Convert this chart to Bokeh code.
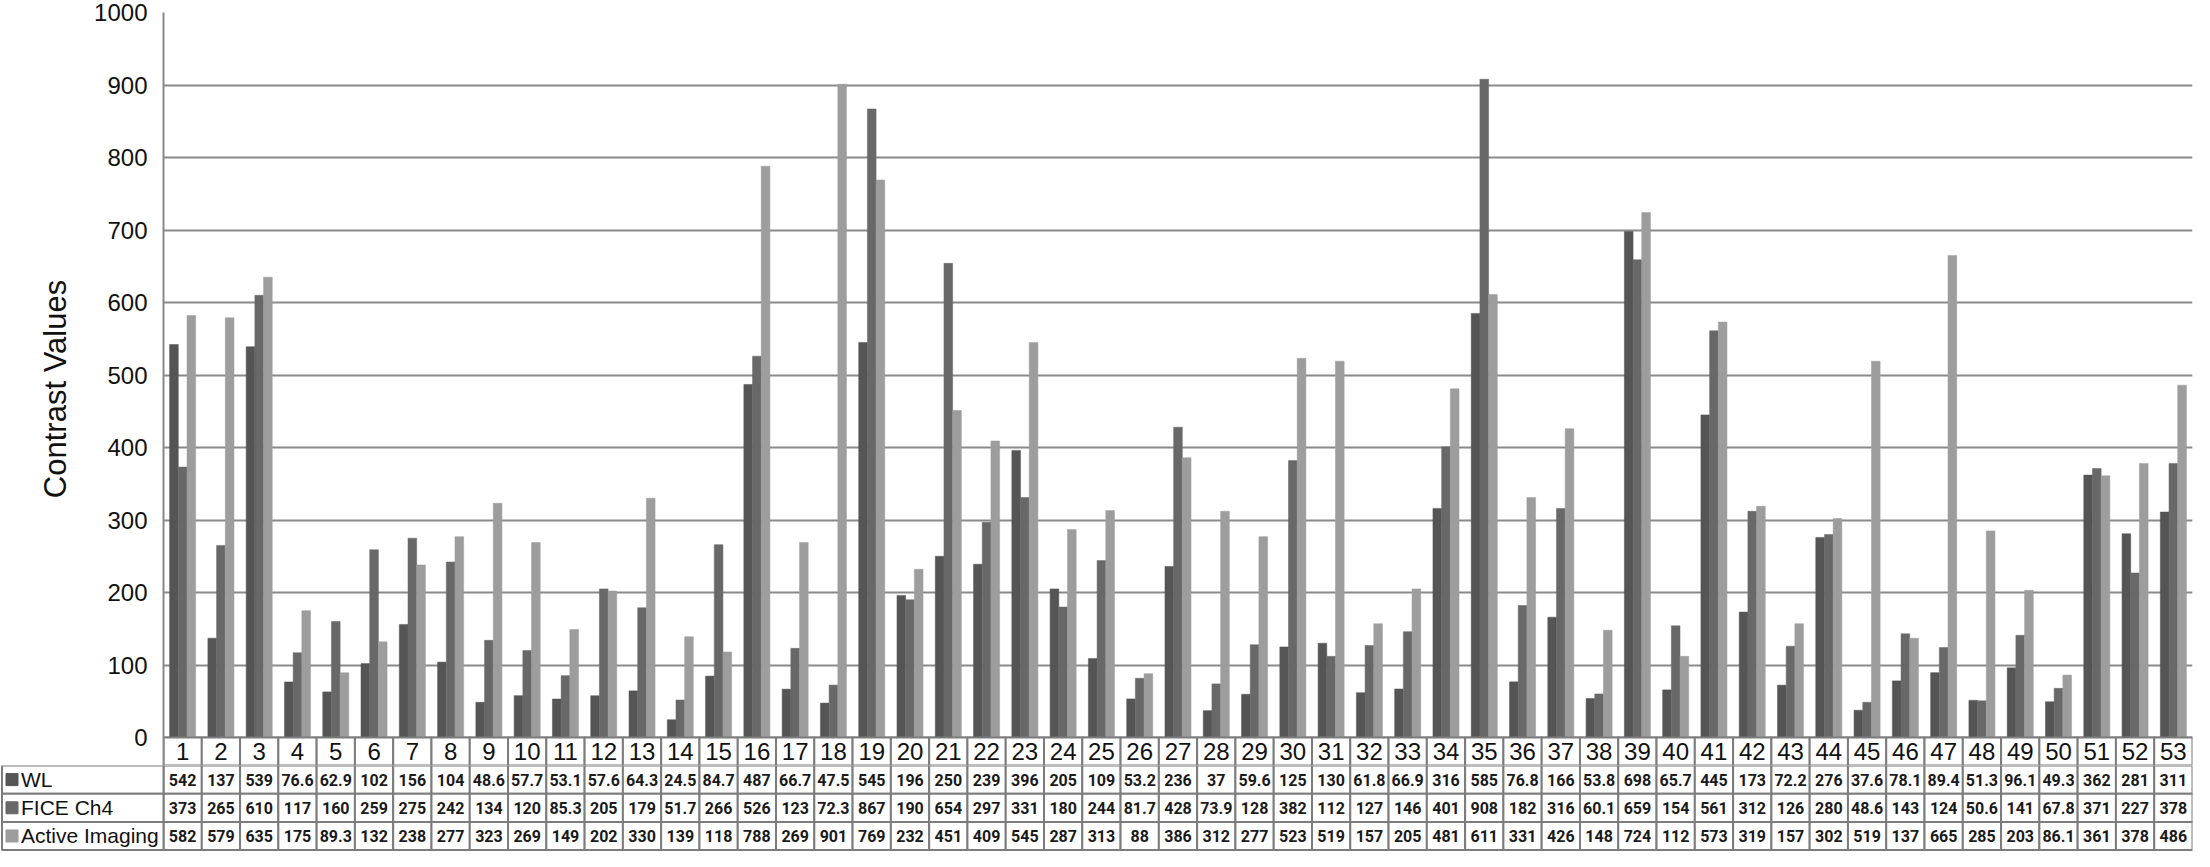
from bokeh.plotting import figure
from bokeh.layouts import column
from bokeh.models import Range1d, FixedTicker, ColumnDataSource
from bokeh.core.properties import value
from bokeh.transform import dodge
from bokeh.embed import file_html
from bokeh.resources import INLINE

# ---------------- data ----------------
categories = [str(i) for i in range(1, 54)]
series_names = ["WL", "FICE Ch4", "Active Imaging"]
wl = [542, 137, 539, 76.6, 62.9, 102, 156, 104, 48.6, 57.7,
      53.1, 57.6, 64.3, 24.5, 84.7, 487, 66.7, 47.5, 545, 196,
      250, 239, 396, 205, 109, 53.2, 236, 37, 59.6, 125,
      130, 61.8, 66.9, 316, 585, 76.8, 166, 53.8, 698, 65.7,
      445, 173, 72.2, 276, 37.6, 78.1, 89.4, 51.3, 96.1, 49.3,
      362, 281, 311]
fice = [373, 265, 610, 117, 160, 259, 275, 242, 134, 120,
        85.3, 205, 179, 51.7, 266, 526, 123, 72.3, 867, 190,
        654, 297, 331, 180, 244, 81.7, 428, 73.9, 128, 382,
        112, 127, 146, 401, 908, 182, 316, 60.1, 659, 154,
        561, 312, 126, 280, 48.6, 143, 124, 50.6, 141, 67.8,
        371, 227, 378]
active = [582, 579, 635, 175, 89.3, 132, 238, 277, 323, 269,
          149, 202, 330, 139, 118, 788, 269, 901, 769, 232,
          451, 409, 545, 287, 313, 88, 386, 312, 277, 523,
          519, 157, 205, 481, 611, 331, 426, 148, 724, 112,
          573, 319, 157, 302, 519, 137, 665, 285, 203, 86.1,
          361, 378, 486]
y_ticks = [0, 100, 200, 300, 400, 500, 600, 700, 800, 900, 1000]

# ---------------- styling / layout ----------------
colors = ["#555555", "#686868", "#9d9d9d"]
grid_col = "#8a8a8a"
border_col = "#7c7c7c"
FONT = "Liberation Sans"

TOTAL_W = 2194
LEFT = 163          # frame left in figure px
RIGHT_PAD = 2
FRAME_W = TOTAL_W - LEFT - RIGHT_PAD
n = len(categories)
ppu = FRAME_W / n   # px per category unit

TOP = 12
CHART_PX = 725      # px for 0..1000
HEADER_PX = 28      # px for category-number row
H = HEADER_PX * 1000.0 / CHART_PX
ROWS_PX = 851 - (TOP + CHART_PX + HEADER_PX)

xs = list(range(1, n + 1))
src = ColumnDataSource(dict(x=xs, wl=wl, fice=fice, ai=active, cat=categories))

p = figure(width=TOTAL_W, height=TOP + CHART_PX + HEADER_PX,
           x_range=Range1d(0.5, n + 0.5), y_range=Range1d(-H, 1000),
           x_axis_location=None, output_backend="svg", toolbar_location=None,
           min_border_left=LEFT, min_border_right=RIGHT_PAD,
           min_border_top=TOP, min_border_bottom=0, frame_align=False)
p.outline_line_color = None
p.background_fill_color = "white"
p.xgrid.visible = False
p.ygrid.ticker = FixedTicker(ticks=y_ticks)
p.ygrid.grid_line_color = grid_col
p.ygrid.grid_line_width = 2
yax = p.yaxis[0]
yax.ticker = FixedTicker(ticks=y_ticks)
yax.axis_line_color = grid_col
yax.axis_line_width = 2
yax.major_tick_line_color = None
yax.minor_tick_line_color = None
yax.major_label_standoff = 10
yax.major_label_text_font = FONT
yax.major_label_text_font_size = "24px"
yax.major_label_text_color = "#111111"
yax.axis_label = "Contrast Values"
yax.axis_label_text_font = FONT
yax.axis_label_text_font_size = "31px"
yax.axis_label_text_font_style = "normal"
yax.axis_label_text_color = "#111111"
yax.axis_label_standoff = 18

bw = 0.227
for key, off, col in zip(["wl", "fice", "ai"], [-bw, 0, bw], colors):
    p.vbar(x=dodge("x", off, range=p.x_range), top=key, bottom=0, width=bw,
           source=src, fill_color=col, line_color=col, line_width=0.5)

# header row (category numbers) below zero line
p.rect(x="x", y=-H / 2, width=1, height=H, source=src, fill_color="white",
       line_color=border_col, line_width=2)
p.text(x="x", y=-H / 2, text="cat", source=src, text_align="center",
       text_baseline="middle", text_font=value(FONT), text_font_size="24px",
       text_color="#111111")

# ---------------- table of values ----------------
x0 = 0.5 - LEFT / ppu
t = figure(width=TOTAL_W, height=ROWS_PX,
           x_range=Range1d(x0, n + 0.5), y_range=Range1d(-0.05, 3),
           x_axis_location=None, y_axis_location=None,
           output_backend="svg", toolbar_location=None,
           min_border_left=0, min_border_right=RIGHT_PAD,
           min_border_top=0, min_border_bottom=0, frame_align=False)
t.outline_line_color = None
t.grid.visible = False

series = [wl, fice, active]
for r, (name, vals, col) in enumerate(zip(series_names, series, colors)):
    yc = 2.5 - r
    rs = ColumnDataSource(dict(x=xs, txt=[f"{v:g}" for v in vals]))
    t.rect(x="x", y=yc, width=1, height=1, source=rs, fill_color="white",
           line_color=border_col, line_width=2)
    t.text(x="x", y=yc, text="txt", source=rs, text_align="center",
           text_baseline="middle", text_font=value("Roboto"),
           text_font_size="16px", text_font_style="bold", text_color="#1a1a1a")
    left = x0 + 1.5 / ppu
    t.quad(left=[left], right=[0.5], bottom=[yc - 0.5], top=[yc + 0.5],
           fill_color="white", line_color=border_col, line_width=2)
    t.scatter(x=[left + 10 / ppu], y=[yc], marker="square", size=12,
              fill_color=col, line_color=col)
    t.text(x=[left + 19 / ppu], y=[yc], text=[name], text_align="left",
           text_baseline="middle", text_font=value(FONT),
           text_font_size="21px", text_color="#111111")

layout = column(p, t, spacing=0)
open("out.html", "w").write(file_html(layout, INLINE))
